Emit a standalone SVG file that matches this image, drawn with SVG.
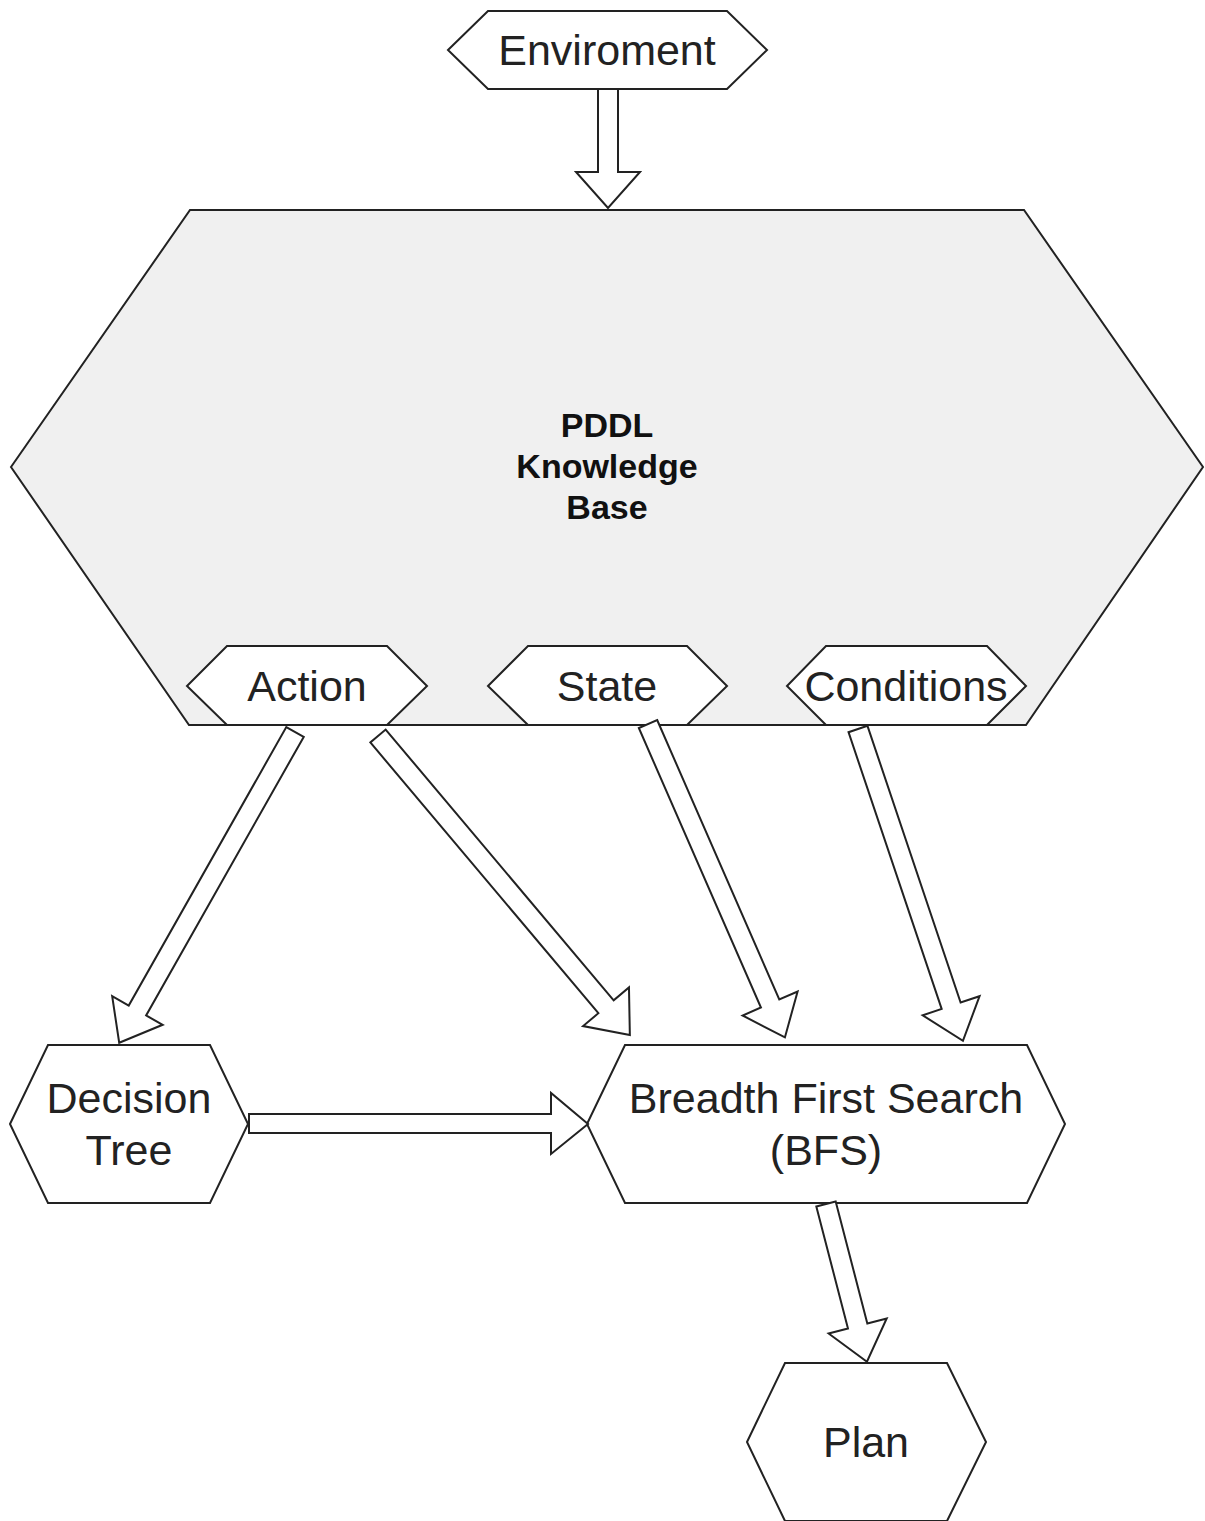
<svg xmlns="http://www.w3.org/2000/svg" width="1205" height="1521" viewBox="0 0 1205 1521">
<style>
.hex{fill:#ffffff;stroke:#222222;stroke-width:2;stroke-linejoin:miter}
.big{fill:#f0f0f0;stroke:#222222;stroke-width:2}
.arr{fill:#ffffff;stroke:#222222;stroke-width:2;stroke-linejoin:miter}
.t{font-family:"Liberation Sans",Arial,sans-serif;font-size:43px;fill:#222222;text-anchor:middle}
.tb{font-family:"Liberation Sans",Arial,sans-serif;font-size:34px;font-weight:bold;fill:#111111;text-anchor:middle}
</style>
<rect width="1205" height="1521" fill="#ffffff"/>
<g id="kb">
<polygon class="big" points="11,467 190,210 1024,210 1203,467 1026,725 189,725"/>
<text class="tb" x="607" y="437">PDDL</text>
<text class="tb" x="607" y="478">Knowledge</text>
<text class="tb" x="607" y="519">Base</text>
</g>
<g id="environment">
<polygon class="hex" points="448,50 488,11 727,11 767,50 727,89 488,89"/>
<text class="t" x="607" y="65">Enviroment</text>
</g>
<g id="action">
<polygon class="hex" points="187,686 227,646 387,646 427,686 387,725 227,725"/>
<text class="t" x="307" y="701">Action</text>
</g>
<g id="state">
<polygon class="hex" points="488,686 528,646 687,646 727,686 687,725 528,725"/>
<text class="t" x="607" y="701">State</text>
</g>
<g id="conditions">
<polygon class="hex" points="787,686 826,646 987,646 1026,686 987,725 826,725"/>
<text class="t" x="906" y="701">Conditions</text>
</g>
<g id="decision-tree">
<polygon class="hex" points="10,1124 48,1045 210,1045 248,1124 210,1203 48,1203"/>
<text class="t" x="129" y="1113">Decision</text>
<text class="t" x="129" y="1165">Tree</text>
</g>
<g id="bfs">
<polygon class="hex" points="587,1124 625,1045 1027,1045 1065,1124 1027,1203 625,1203"/>
<text class="t" x="826" y="1113">Breadth First Search</text>
<text class="t" x="826" y="1165">(BFS)</text>
</g>
<g id="plan">
<polygon class="hex" points="747,1442 785,1363 947,1363 986,1442 947,1521 785,1521"/>
<text class="t" x="866" y="1457">Plan</text>
</g>
<g id="connectors">
<polygon class="arr" points="598,89 618,89 618,172 640,172 608,208 576,172 598,172"/>
<polygon class="arr" transform="translate(295,732) rotate(119.5)" points="0,-10 320,-10 320,-29 357,0 320,29 320,10 0,10"/>
<polygon class="arr" transform="translate(378,736) rotate(49.9)" points="0,-10 354,-10 354,-30 391,0 354,30 354,10 0,10"/>
<polygon class="arr" transform="translate(648,724) rotate(66.4)" points="0,-10 305,-10 305,-30 342,0 305,30 305,10 0,10"/>
<polygon class="arr" transform="translate(858,729) rotate(71.4)" points="0,-10 292,-10 292,-30 329,0 292,30 292,10 0,10"/>
<polygon class="arr" points="249,1114 551,1114 551,1093 588,1124 551,1154 551,1133 249,1133"/>
<polygon class="arr" transform="translate(826,1204) rotate(75.45)" points="0,-10 126,-10 126,-30 163,0 126,30 126,10 0,10"/>
</g>
</svg>
